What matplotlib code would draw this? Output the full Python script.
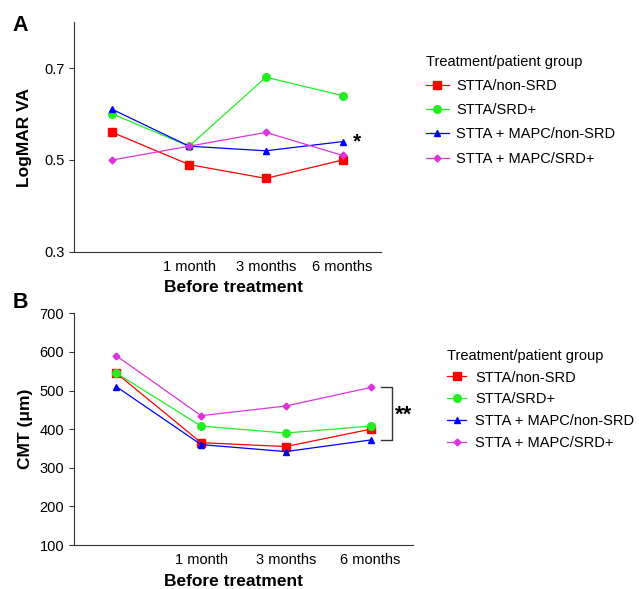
import matplotlib
matplotlib.use("Agg")
import matplotlib.pyplot as plt

plt.rcParams['font.family'] = ['Liberation Sans', 'DejaVu Sans']

# time points (x = 0 is baseline, labelled by the axis title)
timepoints = ["", "1 month", "3 months", "6 months"]
groups = ["STTA/non-SRD", "STTA/SRD+", "STTA + MAPC/non-SRD", "STTA + MAPC/SRD+"]

# panel A: LogMAR VA
va_stta_nonsrd = [0.56, 0.49, 0.46, 0.50]
va_stta_srd = [0.60, 0.53, 0.68, 0.64]
va_mapc_nonsrd = [0.61, 0.53, 0.52, 0.54]
va_mapc_srd = [0.50, 0.53, 0.56, 0.51]

# panel B: CMT (um)
cmt_stta_nonsrd = [545, 365, 355, 400]
cmt_stta_srd = [545, 408, 390, 408]
cmt_mapc_nonsrd = [510, 360, 342, 372]
cmt_mapc_srd = [590, 435, 460, 508]

colors = ['#ff0000', '#22ee22', '#0000ff', '#dd33dd']
markers = ['s', 'o', '^', 'D']
msizes = [5.2, 5.5, 5, 3.5]

x = list(range(len(timepoints)))

fig = plt.figure(figsize=(6.39, 5.89), dpi=100)
axA = fig.add_axes([0.1158, 0.5722, 0.4804, 0.3904])
axB = fig.add_axes([0.1158, 0.0747, 0.5305, 0.3933])


def draw(ax, series, xlab_x, xlab_pad):
    for vals, c, m, ms, lab in zip(series, colors, markers, msizes, groups):
        ax.plot(x, vals, color=c, marker=m, markersize=ms, linewidth=0.9,
                label=lab, clip_on=False)
    ax.spines['top'].set_visible(False)
    ax.spines['right'].set_visible(False)
    ax.spines['left'].set_color('#333333')
    ax.spines['bottom'].set_color('#333333')
    ax.set_xlim(-0.5, 3.5)
    ax.set_xticks(x)
    ax.set_xticklabels(timepoints, fontsize=10.5)
    ax.tick_params(axis='x', length=0, pad=6)
    ax.tick_params(axis='y', length=3.5, labelsize=10.5, color='#333333')
    ax.set_xlabel("Before treatment", fontsize=12.5, fontweight='bold',
                  labelpad=xlab_pad)
    ax.xaxis.label.set_x(xlab_x)


draw(axA, [va_stta_nonsrd, va_stta_srd, va_mapc_nonsrd, va_mapc_srd], 0.521, 4)
axA.set_ylim(0.3, 0.8)
axA.set_yticks([0.3, 0.5, 0.7])
axA.set_yticklabels(["0.3", "0.5", "0.7"])
axA.set_ylabel("LogMAR VA", fontsize=12.5, fontweight='bold', labelpad=8.5)
axA.text(3.13, va_mapc_nonsrd[-1], "*", fontsize=15, fontweight='bold',
         ha='left', va='center')

draw(axB, [cmt_stta_nonsrd, cmt_stta_srd, cmt_mapc_nonsrd, cmt_mapc_srd], 0.472, 4.5)
axB.set_ylim(100, 700)
axB.set_yticks(range(100, 701, 100))
axB.set_ylabel("CMT (\u03bcm)", fontsize=12.5, fontweight='bold', labelpad=5)

# significance bracket on the last time point
top = cmt_mapc_srd[-1]
bot = cmt_mapc_nonsrd[-1]
axB.plot([3.12, 3.255, 3.255, 3.12], [top, top, bot, bot], color='#333333',
         linewidth=1, clip_on=False)
axB.text(3.29, (top + bot) / 2 - 3, "**", fontsize=16, fontweight='bold',
         ha='left', va='center')

fig.text(0.02, 0.975, "A", fontsize=15.5, fontweight='bold', va='top')
fig.text(0.02, 0.505, "B", fontsize=15.5, fontweight='bold', va='top')

axA.legend(loc='upper left', bbox_to_anchor=(0.666, 0.907),
           bbox_transform=fig.transFigure, frameon=False,
           title="Treatment/patient group", title_fontsize=10.5, fontsize=10.5,
           alignment='left', handlelength=1.6, handletextpad=0.5,
           labelspacing=0.7, borderpad=0, borderaxespad=0)
axB.legend(loc='upper left', bbox_to_anchor=(0.700, 0.408),
           bbox_transform=fig.transFigure, frameon=False,
           title="Treatment/patient group", title_fontsize=10.5, fontsize=10.5,
           alignment='left', handlelength=1.3, handletextpad=0.6,
           labelspacing=0.54, borderpad=0, borderaxespad=0)

fig.savefig("out.png", dpi=100)
